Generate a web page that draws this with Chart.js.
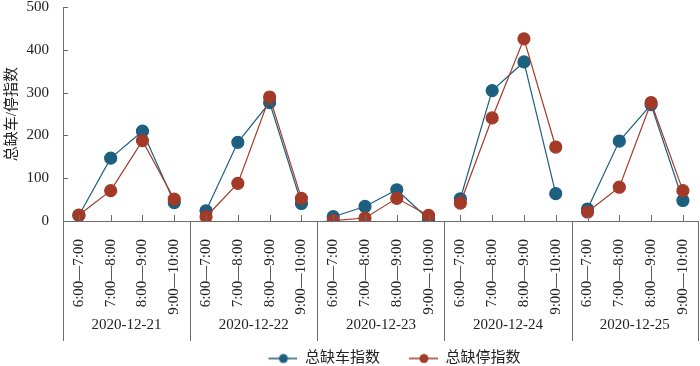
<!DOCTYPE html>
<html>
<head>
<meta charset="utf-8">
<script src="https://cdn.jsdelivr.net/npm/chart.js@4.4.0/dist/chart.umd.min.js"></script>
<style>
  html, body { margin: 0; padding: 0; background: #fff; }
  #frame { width: 700px; height: 366px; overflow: hidden; }
  #wrap { width: 706px; height: 376px; position: relative; }
</style>
</head>
<body>
<div id="frame"><div id="wrap"><canvas id="idx_chart"></canvas></div></div>
<script>
const days = ['2020-12-21', '2020-12-22', '2020-12-23', '2020-12-24', '2020-12-25'];
const hours = ['6:00—7:00', '7:00—8:00', '8:00—9:00', '9:00—10:00'];

const carIndex = [13, 147, 210, 43, 24, 184, 277, 41, 10, 34, 73, 4, 52, 305, 372, 64, 28, 187, 272, 48];
const stopIndex = [14, 71, 188, 51, 10, 88, 290, 53, 1, 7, 53, 13, 42, 241, 426, 173, 21, 79, 277, 71];

const yTicks = [0, 100, 200, 300, 400, 500];

const blue = '#1d5f7e';
const red = '#a33a28';
const axisColor = '#6b6b6b';
const serif = "'Liberation Serif', 'Times New Roman', 'Noto Sans CJK SC', serif";

const labels = [];
days.forEach(d => hours.forEach(h => labels.push(h)));

// line + dot picture for the legend, drawn at the right end of a wider box
function legendMark(color) {
    const c = document.createElement('canvas');
    c.width = 56;
    c.height = 12;
    const g = c.getContext('2d');
    g.strokeStyle = color;
    g.lineWidth = 1.5;
    g.beginPath();
    g.moveTo(27, 6);
    g.lineTo(56, 6);
    g.stroke();
    g.fillStyle = color;
    g.beginPath();
    g.arc(42, 6, 4.5, 0, Math.PI * 2);
    g.fill();
    return c;
}
const marks = [legendMark(blue), legendMark(red)];

// no line between the last hour of one day and the first of the next
const dayBreak = c => (c.p1DataIndex % hours.length === 0 ? 'rgba(0,0,0,0)' : undefined);

const axisDecor = {
    id: 'axisDecor',
    afterDraw(chart) {
        const { ctx, chartArea: a, scales: { x, y } } = chart;
        ctx.save();
        ctx.strokeStyle = axisColor;
        ctx.lineWidth = 1;
        const line = (x1, y1, x2, y2) => {
            ctx.beginPath();
            ctx.moveTo(x1, y1);
            ctx.lineTo(x2, y2);
            ctx.stroke();
        };
        yTicks.forEach(v => {
            const py = Math.round(y.getPixelForValue(v)) + 0.5;
            line(a.left, py, a.left + 5, py);
        });
        labels.forEach((l, i) => {
            const px = Math.round(x.getPixelForValue(i)) + 0.5;
            line(px, a.bottom, px, a.bottom - 6);
        });
        const n = hours.length;
        const bounds = [];
        for (let g = 0; g <= days.length; g++) {
            let px;
            if (g === 0) px = a.left;
            else if (g === days.length) px = a.right - 1;
            else px = (x.getPixelForValue(g * n - 1) + x.getPixelForValue(g * n)) / 2;
            bounds.push(px);
            px = Math.round(px) + 0.5;
            line(px, a.bottom, px, a.bottom + 120);
        }
        ctx.fillStyle = '#222';
        ctx.font = '15px ' + serif;
        ctx.textAlign = 'center';
        ctx.textBaseline = 'middle';
        days.forEach((d, g) => {
            ctx.fillText(d, (bounds[g] + bounds[g + 1]) / 2, a.bottom + 104);
        });
        ctx.restore();
    }
};

const ctx = document.getElementById('idx_chart');

let chart = new Chart(ctx, {
    type: 'line',
    data: {
        labels: labels,
        datasets: [{
            label: '总缺车指数',
            data: carIndex,
            borderColor: blue,
            backgroundColor: blue,
            pointBackgroundColor: blue,
            pointBorderColor: blue,
            borderWidth: 1.2,
            pointRadius: 6,
            segment: { borderColor: dayBreak },
            order: 2
        }, {
            label: '总缺停指数',
            data: stopIndex,
            borderColor: red,
            backgroundColor: red,
            pointBackgroundColor: red,
            pointBorderColor: red,
            borderWidth: 1.2,
            pointRadius: 6,
            segment: { borderColor: dayBreak },
            order: 1
        }]
    },
    options: {
        responsive: true,
        maintainAspectRatio: false,
        animation: false,
        layout: { padding: { top: 5, right: 1, bottom: 0, left: 3 } },
        plugins: {
            tooltip: { enabled: false },
            legend: {
                position: 'bottom',
                fullSize: false,
                labels: {
                    usePointStyle: true,
                    pointStyleWidth: 56,
                    padding: 2,
                    color: '#222',
                    font: { family: serif, size: 15 },
                    sort: (a, b) => a.datasetIndex - b.datasetIndex,
                    generateLabels(chart) {
                        const items = Chart.defaults.plugins.legend.labels.generateLabels(chart);
                        items.forEach(it => { it.pointStyle = marks[it.datasetIndex]; });
                        return items;
                    }
                }
            }
        },
        scales: {
            x: {
                offset: true,
                grid: { display: false },
                border: { display: true, color: axisColor, width: 1 },
                ticks: {
                    autoSkip: false,
                    minRotation: 90,
                    maxRotation: 90,
                    padding: 10,
                    color: '#222',
                    font: { family: serif, size: 15 }
                },
                afterFit(scale) {
                    scale.height = 128;
                    scale.paddingLeft = 0;
                    scale.paddingRight = 0;
                }
            },
            y: {
                min: 0,
                max: 500,
                grid: { display: false },
                border: { display: true, color: axisColor, width: 1 },
                ticks: {
                    stepSize: 100,
                    padding: 6,
                    color: '#222',
                    font: { family: serif, size: 15 }
                },
                title: {
                    display: true,
                    text: '总缺车/停指数',
                    color: '#222',
                    padding: 0,
                    font: { family: serif, size: 15 }
                },
                afterFit(scale) {
                    scale.width = 60;
                    scale.paddingTop = 0;
                    scale.paddingBottom = 0;
                }
            }
        }
    },
    plugins: [axisDecor]
});
</script>
</body>
</html>
